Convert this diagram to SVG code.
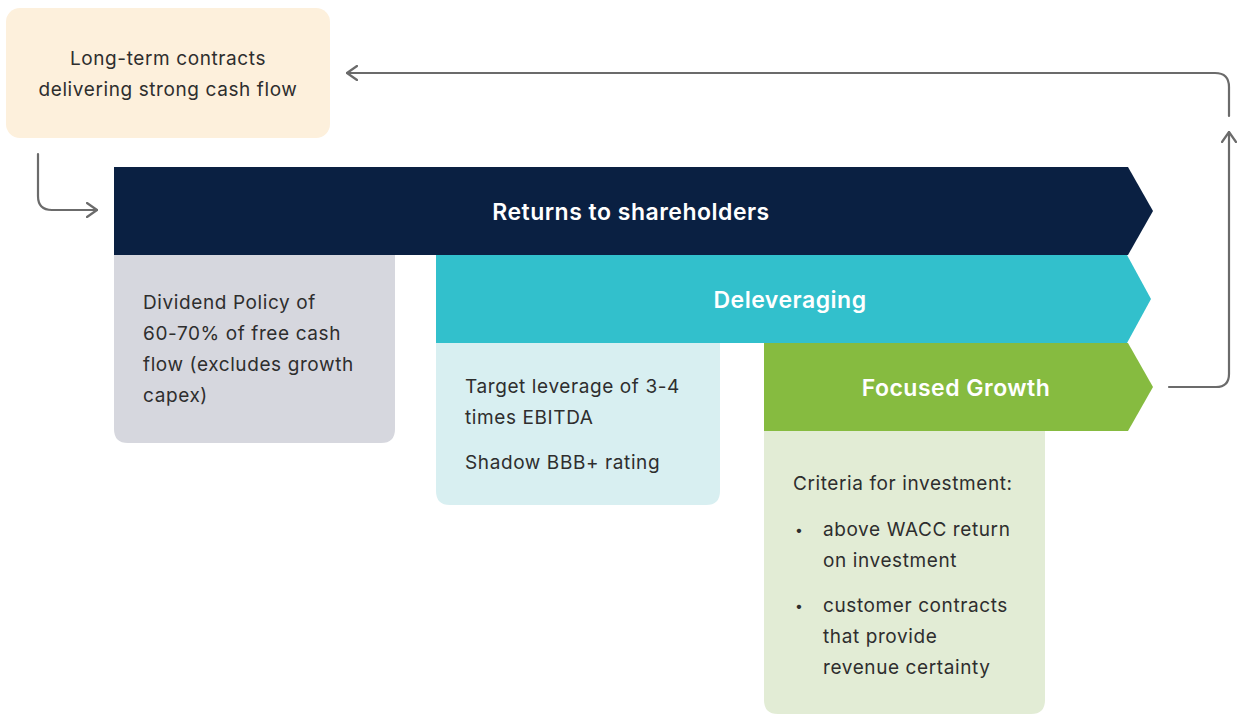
<svg xmlns="http://www.w3.org/2000/svg" width="1237" height="714" viewBox="0 0 1237 714">
<defs>
<style>
.body{font-family:Inter,"Noto Sans","Liberation Sans",sans-serif;font-size:19px;letter-spacing:0.6px;fill:#2e2e2e}
.bul{font-family:Inter,"Noto Sans","Liberation Sans",sans-serif;font-size:14px;fill:#2e2e2e}
.head{font-family:Inter,"Noto Sans","Liberation Sans",sans-serif;font-size:23px;font-weight:600;letter-spacing:0.5px;fill:#ffffff;text-anchor:middle}
.conn{fill:none;stroke:#6b6b6b;stroke-width:2.2;stroke-linecap:round;stroke-linejoin:round}
</style>
<marker id="arr" viewBox="0 0 12 16" refX="11" refY="8" markerWidth="12" markerHeight="16" markerUnits="userSpaceOnUse" orient="auto">
<path d="M1,1 L11,8 L1,15" fill="none" stroke="#6b6b6b" stroke-width="2.2" stroke-linecap="round" stroke-linejoin="round"/>
</marker>
</defs>
<rect width="1237" height="714" fill="#ffffff"/>

<g id="source">
<rect x="6" y="8" width="324" height="130" rx="14" fill="#fdf0dc"/>
<text class="body" x="168" y="65" text-anchor="middle">Long-term contracts</text>
<text class="body" x="168" y="96" text-anchor="middle">delivering strong cash flow</text>
</g>

<g id="dividend-box">
<path d="M114,250 H395 V429 Q395,443 381,443 H128 Q114,443 114,429 Z" fill="#d6d7de"/>
<text class="body" x="143" y="309">Dividend Policy of</text>
<text class="body" x="143" y="340">60-70% of free cash</text>
<text class="body" x="143" y="371">flow (excludes growth</text>
<text class="body" x="143" y="402">capex)</text>
</g>

<g id="leverage-box">
<path d="M436,340 H720 V491 Q720,505 706,505 H450 Q436,505 436,491 Z" fill="#d8eff1"/>
<text class="body" x="465" y="393">Target leverage of 3-4</text>
<text class="body" x="465" y="424">times EBITDA</text>
<text class="body" x="465" y="469">Shadow BBB+ rating</text>
</g>

<g id="growth-box">
<path d="M764,428 H1045 V700 Q1045,714 1031,714 H778 Q764,714 764,700 Z" fill="#e2ecd5"/>
<text class="body" x="793" y="490">Criteria for investment:</text>
<text class="bul" x="795" y="535">•</text>
<text class="body" x="823" y="536">above WACC return</text>
<text class="body" x="823" y="567">on investment</text>
<text class="bul" x="795" y="611">•</text>
<text class="body" x="823" y="612">customer contracts</text>
<text class="body" x="823" y="643">that provide</text>
<text class="body" x="823" y="674">revenue certainty</text>
</g>

<g id="returns">
<path d="M114,167 H1128 L1153,211 L1128,255 H114 Z" fill="#0a2042"/>
<text class="head" x="631" y="220">Returns to shareholders</text>
</g>

<g id="deleveraging">
<path d="M436,255 H1127 L1151,299 L1127,343 H436 Z" fill="#32c0cc"/>
<text class="head" x="790" y="308">Deleveraging</text>
</g>

<g id="focused-growth">
<path d="M764,343 H1128 L1153,387 L1128,431 H764 Z" fill="#86bb40"/>
<text class="head" x="956" y="396">Focused Growth</text>
</g>

<g id="connectors">
<path class="conn" d="M38,154 V196 Q38,210 52,210 H97" marker-end="url(#arr)"/>
<path class="conn" d="M1169,387 H1216 Q1229,387 1229,374 V132" marker-end="url(#arr)"/>
<path class="conn" d="M1229,116 V87 Q1229,73 1215,73 H347" marker-end="url(#arr)"/>
</g>
</svg>
